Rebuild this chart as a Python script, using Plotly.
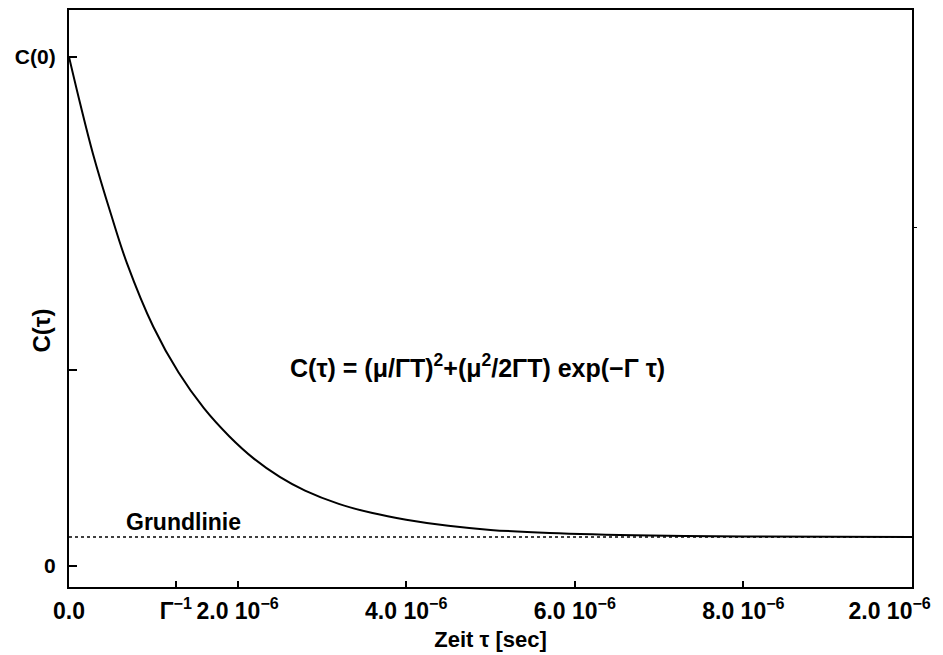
import plotly.graph_objects as go

# curve (tau in microseconds, C in units of C(0))
tau_us = [0.0, 0.13, 0.284, 0.5, 0.687, 1.0, 1.3, 1.6, 1.9, 2.2, 2.5, 2.8,
          3.2, 3.6, 4.0, 4.5, 5.0, 5.7, 6.9, 8.0, 10.0]
c_vals = [1.0, 0.91, 0.81, 0.69, 0.595, 0.47, 0.38, 0.31, 0.255, 0.21, 0.175,
          0.148, 0.122, 0.104, 0.091, 0.079, 0.071, 0.065, 0.060, 0.058, 0.057]
tau = [t * 1e-6 for t in tau_us]

baseline = 0.057
x_range = [0.0, 10e-6]
y_range = [-0.0412, 1.0922]

NB = "\u00a0"
x_tickvals = [0.0, 1.267e-6, 2e-6, 4e-6, 6e-6, 8e-6, 10e-6]
x_ticktext = ["0.0", "Γ<sup>−1</sup>", "2.0 10<sup>−6</sup>", "4.0 10<sup>−6</sup>",
              "6.0 10<sup>−6</sup>", "8.0 10<sup>−6</sup>",
              "2.0 10<sup>−6</sup>" + NB * 7]
y_tickvals = [0.0, 0.385, 1.0]
y_ticktext = ["0", "", "C(0)"]
y2_tickvals = [0.665]

FONT = "Liberation Sans"
plot_top, plot_bottom, plot_left, plot_right = 10, 587, 69, 912

fig = go.Figure()
fig.add_trace(go.Scatter(x=x_range, y=[baseline, baseline], mode="lines",
                         line=dict(color="black", width=1.6, dash="dot"),
                         showlegend=False, hoverinfo="skip"))
fig.add_trace(go.Scatter(x=tau, y=c_vals, mode="lines",
                         line=dict(color="black", width=2, shape="spline", smoothing=1.0),
                         showlegend=False))
fig.add_trace(go.Scatter(x=[None], y=[None], yaxis="y2", showlegend=False))

fig.update_layout(
    width=943, height=655,
    margin=dict(l=plot_left, r=943 - plot_right, t=plot_top, b=655 - plot_bottom),
    paper_bgcolor="white", plot_bgcolor="white",
    font=dict(family=FONT, color="black", size=21, weight="bold"),
    xaxis=dict(range=x_range, tickvals=x_tickvals, ticktext=x_ticktext,
               ticks="inside", ticklen=6, tickwidth=1.5, tickcolor="black",
               showline=True, linecolor="black", linewidth=2.2, mirror=True,
               showgrid=False, zeroline=False, ticklabeloverflow="allow",
               tickangle=0, automargin=False,
               tickfont=dict(family=FONT, size=23, weight="bold"),
               ticklabelstandoff=2,
               title=dict(text="Zeit τ [sec]", standoff=9,
                          font=dict(family=FONT, size=22, weight="bold"))),
    yaxis=dict(range=y_range, tickvals=y_tickvals, ticktext=y_ticktext,
               ticks="inside", ticklen=8, tickwidth=1.5, tickcolor="black",
               showline=True, linecolor="black", linewidth=2.2, mirror=True,
               showgrid=False, zeroline=False, automargin=False,
               tickfont=dict(family=FONT, size=21, weight="bold"),
               ticklabelstandoff=7),
    yaxis2=dict(range=y_range, overlaying="y", side="right", tickvals=y2_tickvals,
                ticktext=[""], ticks="outside", ticklen=4, tickcolor="black",
                showgrid=False, zeroline=False, showline=False, automargin=False),
    annotations=[
        dict(text="C(τ)",
             x=(25 - plot_left) / (plot_right - plot_left), xref="paper",
             y=(plot_bottom - 331) / (plot_bottom - plot_top), yref="paper",
             showarrow=False, textangle=-90,
             font=dict(family=FONT, size=24, weight="bold")),
        dict(text="C(τ) = (μ/ΓT)<sup>2</sup>+(μ<sup>2</sup>/2ΓT) exp(−Γ τ)",
             x=0.484, xref="paper", y=0.383, yref="paper", showarrow=False,
             xanchor="center", yanchor="middle",
             font=dict(family=FONT, size=25, weight="bold")),
        dict(text="Grundlinie", x=0.651e-6, y=0.086, xref="x", yref="y",
             showarrow=False, xanchor="left", yanchor="middle",
             font=dict(family=FONT, size=23, weight="bold")),
    ],
)

fig.write_html("out.html")
